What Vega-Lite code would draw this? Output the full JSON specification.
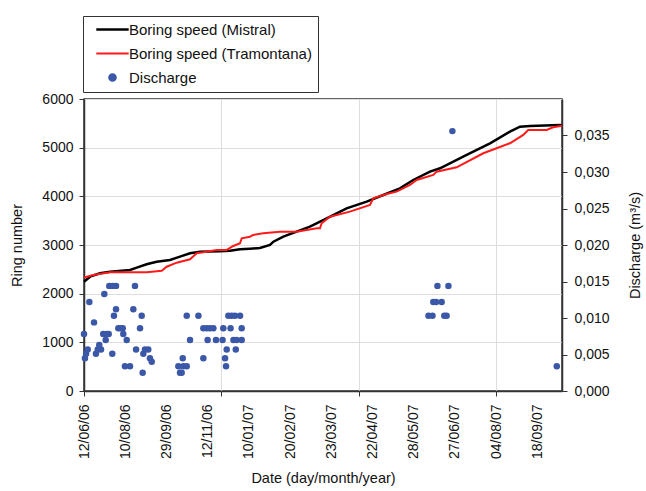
{
  "$schema": "https://vega.github.io/schema/vega-lite/v6.json",
  "width": 478,
  "height": 292,
  "autosize": {"type": "none"},
  "padding": {"left": 84, "top": 99, "right": 84, "bottom": 100},
  "background": "white",
  "config": {
    "font": "Liberation Sans",
    "view": {"stroke": "#333333", "strokeWidth": 1.5},
    "axis": {
      "labelFont": "Liberation Sans",
      "titleFont": "Liberation Sans",
      "labelColor": "#111111",
      "titleColor": "#111111",
      "titleFontWeight": "normal",
      "domainColor": "#333333",
      "tickColor": "#333333",
      "domainWidth": 1.5,
      "labelFontSize": 14,
      "titleFontSize": 14.5,
      "gridColor": "#dedede",
      "gridWidth": 1
    }
  },
  "datasets": {
    "lines": [
      {"i": 0, "series": "Boring speed (Mistral)", "ring": 2246},
      {"i": 4.4, "series": "Boring speed (Mistral)", "ring": 2349},
      {"i": 11.6, "series": "Boring speed (Mistral)", "ring": 2419},
      {"i": 18.9, "series": "Boring speed (Mistral)", "ring": 2452},
      {"i": 33.5, "series": "Boring speed (Mistral)", "ring": 2487},
      {"i": 38.4, "series": "Boring speed (Mistral)", "ring": 2534},
      {"i": 45.6, "series": "Boring speed (Mistral)", "ring": 2604},
      {"i": 52.9, "series": "Boring speed (Mistral)", "ring": 2657},
      {"i": 62.6, "series": "Boring speed (Mistral)", "ring": 2692},
      {"i": 69.9, "series": "Boring speed (Mistral)", "ring": 2760},
      {"i": 77.2, "series": "Boring speed (Mistral)", "ring": 2830},
      {"i": 84.4, "series": "Boring speed (Mistral)", "ring": 2863},
      {"i": 99, "series": "Boring speed (Mistral)", "ring": 2870},
      {"i": 106.3, "series": "Boring speed (Mistral)", "ring": 2883},
      {"i": 113.6, "series": "Boring speed (Mistral)", "ring": 2912},
      {"i": 120.8, "series": "Boring speed (Mistral)", "ring": 2924},
      {"i": 128.1, "series": "Boring speed (Mistral)", "ring": 2939},
      {"i": 135.4, "series": "Boring speed (Mistral)", "ring": 3000},
      {"i": 137.9, "series": "Boring speed (Mistral)", "ring": 3068},
      {"i": 145.1, "series": "Boring speed (Mistral)", "ring": 3171},
      {"i": 154.8, "series": "Boring speed (Mistral)", "ring": 3274},
      {"i": 164.5, "series": "Boring speed (Mistral)", "ring": 3376},
      {"i": 176.7, "series": "Boring speed (Mistral)", "ring": 3549},
      {"i": 191.2, "series": "Boring speed (Mistral)", "ring": 3754},
      {"i": 205.8, "series": "Boring speed (Mistral)", "ring": 3890},
      {"i": 217.9, "series": "Boring speed (Mistral)", "ring": 4028},
      {"i": 230, "series": "Boring speed (Mistral)", "ring": 4165},
      {"i": 239.7, "series": "Boring speed (Mistral)", "ring": 4336},
      {"i": 251.9, "series": "Boring speed (Mistral)", "ring": 4507},
      {"i": 259.2, "series": "Boring speed (Mistral)", "ring": 4576},
      {"i": 278.6, "series": "Boring speed (Mistral)", "ring": 4850},
      {"i": 295.6, "series": "Boring speed (Mistral)", "ring": 5090},
      {"i": 310.1, "series": "Boring speed (Mistral)", "ring": 5329},
      {"i": 317.4, "series": "Boring speed (Mistral)", "ring": 5431},
      {"i": 324.7, "series": "Boring speed (Mistral)", "ring": 5446},
      {"i": 335.6, "series": "Boring speed (Mistral)", "ring": 5456},
      {"i": 346.5, "series": "Boring speed (Mistral)", "ring": 5466},
      {"i": 348, "series": "Boring speed (Mistral)", "ring": 5456},
      {"i": 0, "series": "Boring speed (Tramontana)", "ring": 2332},
      {"i": 6.8, "series": "Boring speed (Tramontana)", "ring": 2384},
      {"i": 18.9, "series": "Boring speed (Tramontana)", "ring": 2439},
      {"i": 45.6, "series": "Boring speed (Tramontana)", "ring": 2439},
      {"i": 56.6, "series": "Boring speed (Tramontana)", "ring": 2472},
      {"i": 60.2, "series": "Boring speed (Tramontana)", "ring": 2554},
      {"i": 67.5, "series": "Boring speed (Tramontana)", "ring": 2637},
      {"i": 77.2, "series": "Boring speed (Tramontana)", "ring": 2706},
      {"i": 82, "series": "Boring speed (Tramontana)", "ring": 2830},
      {"i": 86.8, "series": "Boring speed (Tramontana)", "ring": 2850},
      {"i": 96.6, "series": "Boring speed (Tramontana)", "ring": 2898},
      {"i": 103.9, "series": "Boring speed (Tramontana)", "ring": 2898},
      {"i": 108.7, "series": "Boring speed (Tramontana)", "ring": 2980},
      {"i": 113.6, "series": "Boring speed (Tramontana)", "ring": 3035},
      {"i": 114.8, "series": "Boring speed (Tramontana)", "ring": 3138},
      {"i": 120.8, "series": "Boring speed (Tramontana)", "ring": 3171},
      {"i": 123.2, "series": "Boring speed (Tramontana)", "ring": 3206},
      {"i": 130.5, "series": "Boring speed (Tramontana)", "ring": 3241},
      {"i": 142.7, "series": "Boring speed (Tramontana)", "ring": 3274},
      {"i": 154.8, "series": "Boring speed (Tramontana)", "ring": 3274},
      {"i": 169.4, "series": "Boring speed (Tramontana)", "ring": 3343},
      {"i": 171.8, "series": "Boring speed (Tramontana)", "ring": 3343},
      {"i": 173, "series": "Boring speed (Tramontana)", "ring": 3446},
      {"i": 179.1, "series": "Boring speed (Tramontana)", "ring": 3582},
      {"i": 193.6, "series": "Boring speed (Tramontana)", "ring": 3685},
      {"i": 208.2, "series": "Boring speed (Tramontana)", "ring": 3822},
      {"i": 210.6, "series": "Boring speed (Tramontana)", "ring": 3960},
      {"i": 220.4, "series": "Boring speed (Tramontana)", "ring": 4048},
      {"i": 227.6, "series": "Boring speed (Tramontana)", "ring": 4096},
      {"i": 237.3, "series": "Boring speed (Tramontana)", "ring": 4233},
      {"i": 242.2, "series": "Boring speed (Tramontana)", "ring": 4336},
      {"i": 254.3, "series": "Boring speed (Tramontana)", "ring": 4439},
      {"i": 256.7, "series": "Boring speed (Tramontana)", "ring": 4507},
      {"i": 271.3, "series": "Boring speed (Tramontana)", "ring": 4597},
      {"i": 290.7, "series": "Boring speed (Tramontana)", "ring": 4885},
      {"i": 310.1, "series": "Boring speed (Tramontana)", "ring": 5090},
      {"i": 319.8, "series": "Boring speed (Tramontana)", "ring": 5261},
      {"i": 323.4, "series": "Boring speed (Tramontana)", "ring": 5364},
      {"i": 336.8, "series": "Boring speed (Tramontana)", "ring": 5364},
      {"i": 341.6, "series": "Boring speed (Tramontana)", "ring": 5419},
      {"i": 348, "series": "Boring speed (Tramontana)", "ring": 5452}
    ],
    "discharge": [
      {"i": 0, "q": 0.0078}, {"i": 0.7, "q": 0.0045}, {"i": 1.5, "q": 0.0051}, {"i": 2.7, "q": 0.0057},
      {"i": 3.9, "q": 0.0122}, {"i": 7.3, "q": 0.0094}, {"i": 8.7, "q": 0.0051}, {"i": 10, "q": 0.0057},
      {"i": 11.1, "q": 0.0063}, {"i": 12.4, "q": 0.0057}, {"i": 14, "q": 0.0078}, {"i": 16.5, "q": 0.0078},
      {"i": 18, "q": 0.0078}, {"i": 14.8, "q": 0.0133}, {"i": 15.8, "q": 0.007}, {"i": 18.4, "q": 0.0144},
      {"i": 20.9, "q": 0.0144}, {"i": 23.3, "q": 0.0144}, {"i": 20.6, "q": 0.0051}, {"i": 23.3, "q": 0.0112},
      {"i": 21.8, "q": 0.0103}, {"i": 25, "q": 0.0086}, {"i": 26.7, "q": 0.0086}, {"i": 28.2, "q": 0.0086},
      {"i": 28.6, "q": 0.0078}, {"i": 31.1, "q": 0.007}, {"i": 29.8, "q": 0.0034}, {"i": 33.5, "q": 0.0034},
      {"i": 37.1, "q": 0.0144}, {"i": 35.9, "q": 0.0112}, {"i": 42, "q": 0.0103}, {"i": 40.8, "q": 0.0086},
      {"i": 37.9, "q": 0.0057}, {"i": 43.2, "q": 0.0051}, {"i": 44.4, "q": 0.0057}, {"i": 46.8, "q": 0.0057},
      {"i": 42.7, "q": 0.0025}, {"i": 48, "q": 0.0045}, {"i": 49.3, "q": 0.004},
      {"i": 68.7, "q": 0.0034}, {"i": 69.9, "q": 0.0025}, {"i": 71.1, "q": 0.0025}, {"i": 71.9, "q": 0.0045},
      {"i": 72.3, "q": 0.0034}, {"i": 74.8, "q": 0.0034}, {"i": 74.8, "q": 0.0103}, {"i": 77.2, "q": 0.007},
      {"i": 83.3, "q": 0.0103}, {"i": 86.9, "q": 0.0045}, {"i": 86.9, "q": 0.0086}, {"i": 89.4, "q": 0.0086},
      {"i": 90, "q": 0.007}, {"i": 91.7, "q": 0.0086}, {"i": 94.2, "q": 0.0086}, {"i": 96.1, "q": 0.007},
      {"i": 100.9, "q": 0.007}, {"i": 101.4, "q": 0.0086}, {"i": 102.7, "q": 0.0045}, {"i": 103.4, "q": 0.0034},
      {"i": 103.9, "q": 0.0057}, {"i": 105.1, "q": 0.0103}, {"i": 107.5, "q": 0.0103}, {"i": 109.9, "q": 0.0103},
      {"i": 113.6, "q": 0.0103}, {"i": 106.7, "q": 0.0086}, {"i": 108.8, "q": 0.007}, {"i": 110.5, "q": 0.0057},
      {"i": 111.1, "q": 0.007}, {"i": 114.8, "q": 0.007}, {"i": 114.8, "q": 0.0086},
      {"i": 250.8, "q": 0.0103}, {"i": 253.7, "q": 0.0103}, {"i": 257.3, "q": 0.0144}, {"i": 254.3, "q": 0.0122},
      {"i": 256.3, "q": 0.0122}, {"i": 260.4, "q": 0.0122}, {"i": 262.3, "q": 0.0103}, {"i": 264, "q": 0.0103},
      {"i": 265.3, "q": 0.0144}, {"i": 268.2, "q": 0.0356}, {"i": 344.2, "q": 0.0034}
    ]
  },
  "encoding": {
    "x": {
      "field": "i",
      "type": "quantitative",
      "scale": {"domain": [0, 348], "nice": false, "zero": false},
      "axis": {
        "values": [0, 30, 60, 90, 100, 120, 150, 180, 200, 210, 240, 270, 300, 330],
        "labelExpr": "datum.value % 30 === 0 ? ['12/06/06','10/08/06','29/09/06','12/11/06','10/01/07','20/02/07','23/03/07','22/04/07','28/05/07','27/06/07','04/08/07','18/09/07'][datum.value / 30] : ''",
        "labelAngle": -90,
        "labelAlign": "right",
        "labelBaseline": "middle",
        "labelOverlap": false,
        "labelFlush": false,
        "labelPadding": 8,
        "tickSize": 5,
        "tickOpacity": {"condition": {"test": "datum.value % 100 === 0", "value": 1}, "value": 0},
        "grid": true,
        "gridOpacity": {"condition": {"test": "datum.value % 100 === 0 && datum.value > 0", "value": 1}, "value": 0},
        "title": "Date (day/month/year)",
        "titlePadding": 13
      }
    }
  },
  "layer": [
    {
      "data": {"name": "lines"},
      "mark": {"type": "line", "interpolate": "linear"},
      "encoding": {
        "y": {
          "field": "ring",
          "type": "quantitative",
          "scale": {"domain": [0, 6000], "nice": false},
          "axis": {
            "values": [0, 1000, 2000, 3000, 4000, 5000, 6000],
            "format": "d",
            "title": "Ring number",
            "grid": true,
            "tickSize": 5,
            "labelPadding": 6,
            "titlePadding": 17
          }
        },
        "color": {
          "field": "series",
          "type": "nominal",
          "scale": {
            "domain": ["Boring speed (Mistral)", "Boring speed (Tramontana)", "Discharge"],
            "range": ["#000000", "#ff1a1a", "#3b57a7"]
          },
          "legend": {
            "title": null,
            "orient": "none",
            "legendX": -1,
            "legendY": -83,
            "direction": "vertical",
            "strokeColor": "#333333",
            "fillColor": "white",
            "padding": 6,
            "symbolOffset": 16,
            "labelOffset": 9,
            "rowPadding": 8,
            "labelFont": "Liberation Sans",
            "labelFontSize": 15,
            "labelColor": "#111111",
            "labelLimit": 400,
            "symbolSize": 576,
            "symbolType": "M-1.35,0H1.35",
            "symbolStrokeWidth": 2.5,
            "encode": {
              "symbols": {
                "update": {
                  "shape": {"signal": "datum.value === 'Discharge' ? 'circle' : 'M-1.35,0H1.35'"},
                  "size": {"signal": "datum.value === 'Discharge' ? 44 : 576"},
                  "fill": {"signal": "datum.value === 'Discharge' ? '#3b57a7' : 'transparent'"},
                  "stroke": {"signal": "datum.value === 'Discharge' ? 'transparent' : (datum.value === 'Boring speed (Mistral)' ? '#000000' : '#ff1a1a')"},
                  "strokeWidth": {"signal": "datum.value === 'Boring speed (Mistral)' ? 2.5 : 2"},
                  "opacity": {"value": 1}
                }
              }
            }
          }
        },
        "strokeWidth": {
          "field": "series",
          "type": "nominal",
          "scale": {"domain": ["Boring speed (Mistral)", "Boring speed (Tramontana)"], "range": [2.5, 2]},
          "legend": null
        }
      }
    },
    {
      "data": {"name": "discharge"},
      "mark": {"type": "point", "filled": true, "size": 42, "opacity": 1},
      "encoding": {
        "y": {
          "field": "q",
          "type": "quantitative",
          "scale": {"domain": [0, 0.04], "nice": false},
          "axis": {
            "orient": "right",
            "values": [0, 0.005, 0.01, 0.015, 0.02, 0.025, 0.03, 0.035],
            "labelExpr": "replace(format(datum.value, '.3f'), '.', ',')",
            "title": "Discharge (m³/s)",
            "titleAngle": 270,
            "grid": false,
            "tickSize": 5,
            "labelPadding": 7,
            "titlePadding": 33
          }
        },
        "color": {"datum": "Discharge", "type": "nominal"}
      }
    }
  ],
  "resolve": {"scale": {"y": "independent"}}
}
